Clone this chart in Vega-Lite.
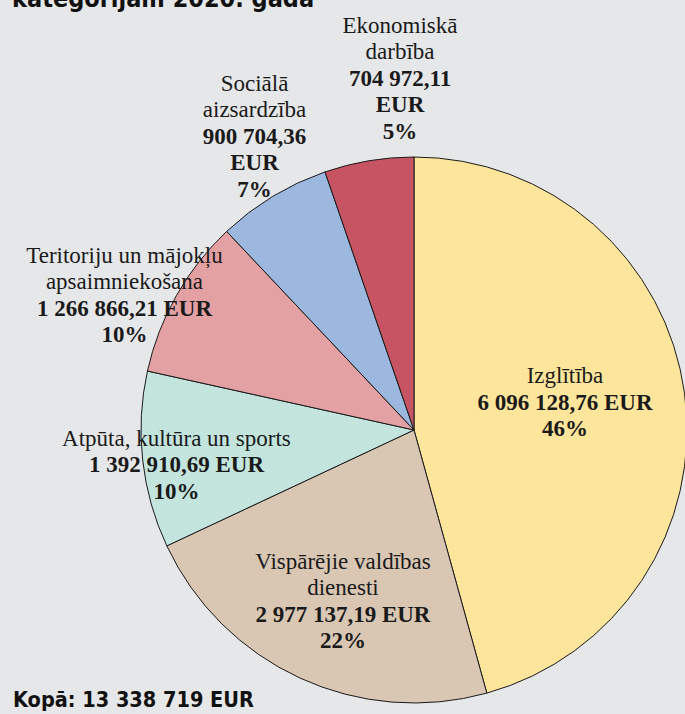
{
  "$schema": "https://vega.github.io/schema/vega-lite/v6.json",
  "background": "#e6e7e9",
  "padding": {"left": 0, "top": -13, "right": 0, "bottom": 0},
  "autosize": {"type": "pad"},
  "title": {
    "text": "Kopā: 13 338 719 EUR",
    "orient": "bottom",
    "anchor": "start",
    "dx": 13,
    "offset": -158,
    "font": "DejaVu Sans Condensed, DejaVu Sans",
    "fontSize": 21.5,
    "fontWeight": "bold",
    "color": "#111111"
  },
  "data": {
    "values": [
      {"category": "Izglītība", "value": 6096128.76, "name": "\nIzglītība", "amount": "6 096 128,76 EUR\n46%"},
      {"category": "Vispārējie valdības dienesti", "value": 2977137.19, "name": "Vispārējie valdības\ndienesti", "amount": "2 977 137,19 EUR\n22%"},
      {"category": "Atpūta, kultūra un sports", "value": 1392910.69, "name": "\nAtpūta, kultūra un sports", "amount": "1 392 910,69 EUR\n10%"},
      {"category": "Teritoriju un mājokļu apsaimniekošana", "value": 1266866.21, "name": "Teritoriju un mājokļu\napsaimniekošana", "amount": "1 266 866,21 EUR\n10%"},
      {"category": "Sociālā aizsardzība", "value": 900704.36, "name": "Sociālā\naizsardzība", "amount": "900 704,36\nEUR\n7%"},
      {"category": "Ekonomiskā darbība", "value": 704972.11, "name": "Ekonomiskā\ndarbība", "amount": "704 972,11\nEUR\n5%"}
    ]
  },
  "vconcat": [
    {
      "width": 828,
      "height": 836,
      "title": {
        "text": "kategorijām 2020. gadā",
        "anchor": "start",
        "frame": "group",
        "dx": 12,
        "offset": 0,
        "font": "DejaVu Sans Condensed, DejaVu Sans",
        "fontSize": 25,
        "fontWeight": "bold",
        "color": "#111111"
      },
      "resolve": {"scale": {"theta": "independent"}},
      "layer": [
        {
          "mark": {"type": "arc", "radius": 273, "stroke": "#1a1a1a", "strokeWidth": 1},
          "encoding": {
            "theta": {"field": "value", "type": "quantitative", "stack": true},
            "order": {"field": "value", "type": "quantitative", "sort": "descending"},
            "color": {
              "field": "category",
              "type": "nominal",
              "legend": null,
              "scale": {
                "domain": ["Izglītība", "Vispārējie valdības dienesti", "Atpūta, kultūra un sports", "Teritoriju un mājokļu apsaimniekošana", "Sociālā aizsardzība", "Ekonomiskā darbība"],
                "range": ["#fde59b", "#d9c7b4", "#c3e5de", "#e3a1a3", "#9db8de", "#c75463"]
              }
            }
          }
        },
        {
          "mark": {"type": "text", "lineBreak": "\n", "align": "center", "baseline": "line-bottom", "dy": -26, "font": "Liberation Serif", "fontSize": 23, "lineHeight": 26.5, "color": "#1a1a1a"},
          "encoding": {
            "text": {"field": "name", "type": "nominal"},
            "theta": {
              "field": "value",
              "type": "quantitative",
              "stack": null,
              "scale": {
                "type": "linear",
                "domain": [704972.11, 900704.36, 1266866.21, 1392910.69, 2977137.19, 6096128.76],
                "range": [6.2448, 5.8032, 5.147, 4.6181, 3.5343, 1.309]
              }
            },
            "radius": {
              "field": "value",
              "type": "quantitative",
              "scale": {
                "type": "linear",
                "domain": [704972.11, 900704.36, 1266866.21, 1392910.69, 2977137.19, 6096128.76],
                "range": [364.7, 345.4, 319.2, 238.6, 185.7, 156.3]
              }
            }
          }
        },
        {
          "mark": {"type": "text", "lineBreak": "\n", "align": "center", "baseline": "line-top", "font": "Liberation Serif", "fontWeight": "bold", "fontSize": 23, "lineHeight": 26.5, "color": "#1a1a1a"},
          "encoding": {
            "text": {"field": "amount", "type": "nominal"},
            "theta": {
              "field": "value",
              "type": "quantitative",
              "stack": null,
              "scale": {
                "type": "linear",
                "domain": [704972.11, 900704.36, 1266866.21, 1392910.69, 2977137.19, 6096128.76],
                "range": [6.2448, 5.8032, 5.147, 4.6181, 3.5343, 1.309]
              }
            },
            "radius": {
              "field": "value",
              "type": "quantitative",
              "scale": {
                "type": "linear",
                "domain": [704972.11, 900704.36, 1266866.21, 1392910.69, 2977137.19, 6096128.76],
                "range": [364.7, 345.4, 319.2, 238.6, 185.7, 156.3]
              }
            }
          }
        }
      ]
    }
  ],
  "config": {"view": {"stroke": null}, "concat": {"spacing": 0}}
}
